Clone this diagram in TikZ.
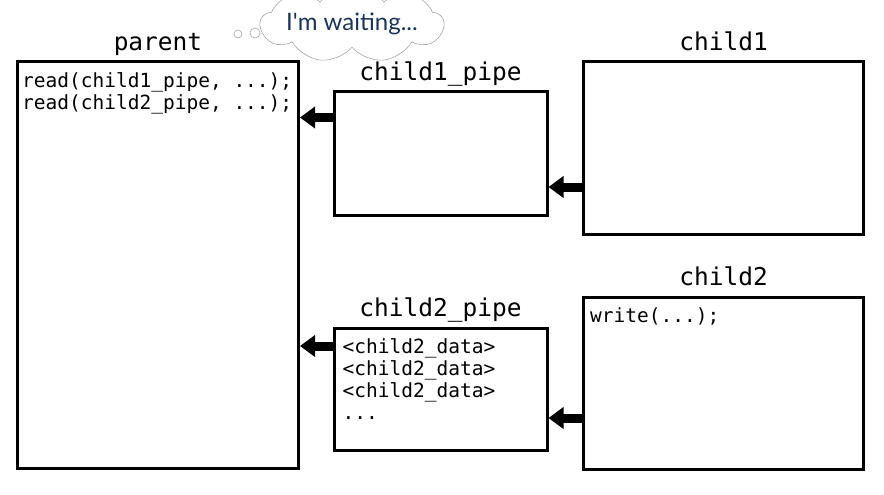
\documentclass[tikz,border=0pt]{standalone}
\usepackage{fontspec}
\setmonofont{DejaVu Sans Mono}
\newfontfamily\cloudfont{Lato}
\usetikzlibrary{arrows.meta,shapes.symbols}
\definecolor{thinkblue}{HTML}{1B3556}
\begin{document}
\begin{tikzpicture}[x=1pt,y=-1pt,
  box/.style={draw, line width=3pt, rectangle, inner sep=0pt},
  title/.style={font=\ttfamily\fontsize{24.5}{26}\selectfont, anchor=base, inner sep=0pt},
  code/.style={font=\ttfamily\fontsize{19.5}{22}\selectfont, align=left, anchor=north west, inner sep=0pt},
  flow/.style={line width=9pt, -{Triangle[length=15pt, width=21pt]}},
  puff/.style={circle, draw=gray!70, line width=0.6pt, inner sep=0pt}]

  \useasboundingbox (0,0) rectangle (884,495);

  % the processes and the pipes
  \node[box, minimum width=281pt, minimum height=406pt] (parent) at (158,265) {};
  \node[box, minimum width=213pt, minimum height=123pt] (pipe1) at (440.5,153.5) {};
  \node[box, minimum width=280pt, minimum height=172pt] (child1) at (723.5,148) {};
  \node[box, minimum width=280pt, minimum height=172pt] (child2) at (723.5,383) {};
  \node[box, minimum width=213pt, minimum height=122pt] (pipe2) at (440.5,389) {};

  \node[title] at ([yshift=10pt]parent.north) {parent};
  \node[title] at ([yshift=10pt]pipe1.north) {child1\_pipe};
  \node[title] at ([yshift=10pt]child1.north) {child1};
  \node[title] at ([yshift=10pt]child2.north) {child2};
  \node[title] at ([yshift=10pt]pipe2.north) {child2\_pipe};

  \node[code] (readcode) at ([shift={(6pt,-12pt)}]parent.north west)
    {read(child1\_pipe, ...);\\read(child2\_pipe, ...);};
  \node[code] (writecode) at ([shift={(8pt,-12pt)}]child2.north west) {write(...);};
  \node[code] (data) at ([shift={(10pt,-12pt)}]pipe2.north west)
    {<child2\_data>\\<child2\_data>\\<child2\_data>\\...};

  % data flow
  \draw[flow] ([yshift=36pt]pipe1.west) coordinate (a1) -- (a1 -| parent.east);
  \draw[flow] ([yshift=-39pt]child1.west) coordinate (a2) -- (a2 -| pipe1.east);
  \draw[flow] ([yshift=43pt]pipe2.west) coordinate (a3) -- (a3 -| parent.east);
  \draw[flow] ([yshift=-35pt]child2.west) coordinate (a4) -- (a4 -| pipe2.east);

  % thought bubble
  \node[cloud, draw=gray!70, line width=0.6pt, cloud puffs=9, cloud puff arc=110,
    aspect=4, minimum width=150pt, minimum height=38pt, inner sep=0pt] (wait) at (352,24)
    {\cloudfont\fontsize{24}{25}\selectfont\color{thinkblue}I'm waiting...};
  \node[puff, minimum size=8pt] (dot1) at (238,34) {};
  \node[puff, minimum size=10pt] (dot2) at (255,33) {};
\end{tikzpicture}
\end{document}
